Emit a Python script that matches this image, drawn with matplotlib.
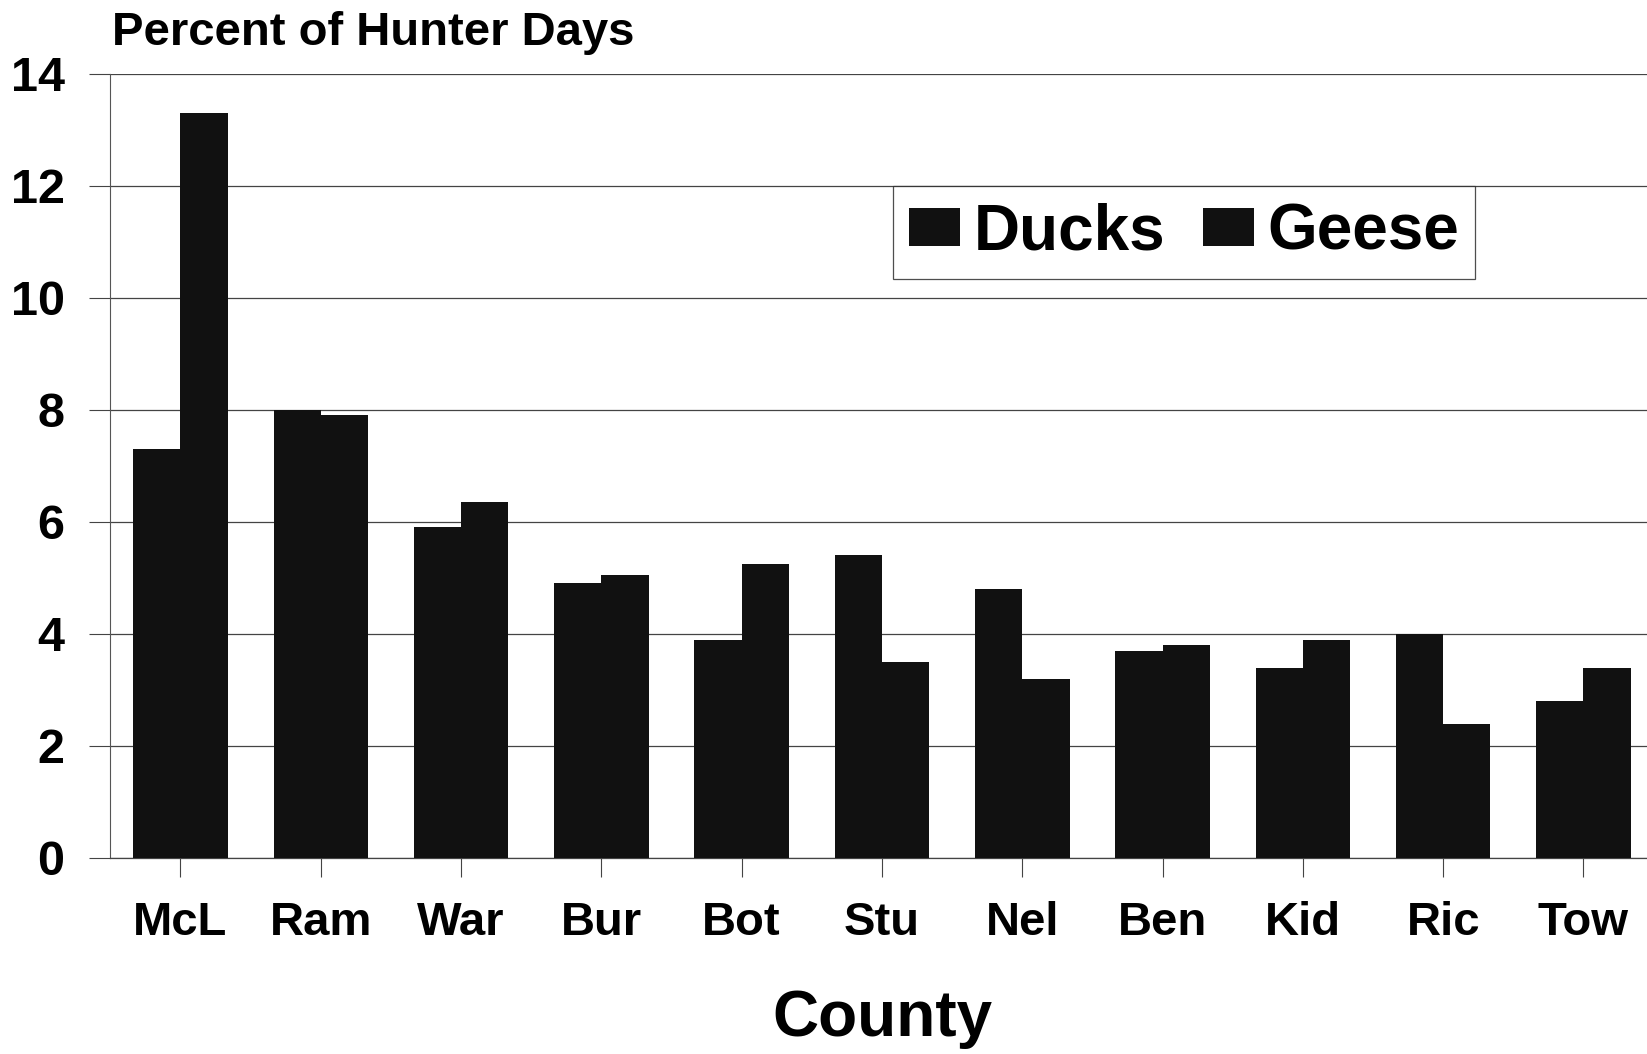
import matplotlib
matplotlib.use("Agg")
import matplotlib.pyplot as plt
import numpy as np

counties = ["McL", "Ram", "War", "Bur", "Bot", "Stu", "Nel", "Ben", "Kid", "Ric", "Tow"]
ducks = [7.3, 8.0, 5.9, 4.9, 3.9, 5.4, 4.8, 3.7, 3.4, 4.0, 2.8]
geese = [13.3, 7.9, 6.35, 5.05, 5.25, 3.5, 3.2, 3.8, 3.9, 2.4, 3.4]
yticks = [0, 2, 4, 6, 8, 10, 12, 14]

plt.rcParams['font.family'] = ['Liberation Sans', 'DejaVu Sans']
plt.rcParams['font.weight'] = 'bold'

fig = plt.figure(figsize=(16.47, 10.54), dpi=100)
ax = fig.add_axes([0.067, 0.186, 0.937, 0.744])

x = np.arange(len(counties))
w = 0.337
ax.bar(x - w/2, ducks, width=w, color='#111111', label='Ducks', zorder=3)
ax.bar(x + w/2, geese, width=w, color='#111111', label='Geese', zorder=3)

ax.set_xlim(-0.5, len(counties) - 0.5)
ax.set_ylim(0, 14)
ax.set_yticks(yticks)
ax.set_yticklabels([str(v) for v in yticks], fontsize=35, fontweight='bold')
ax.set_xticks(x)
ax.set_xticklabels(counties, fontsize=34, fontweight='bold')
ax.tick_params(axis='y', length=15, width=0.8, pad=18, color='#444444')
ax.tick_params(axis='x', length=14, width=0.8, pad=17, color='#444444')

ax.yaxis.grid(True, color='#444444', linewidth=0.9, zorder=0)
ax.set_axisbelow(True)
for s in ['top', 'right']:
    ax.spines[s].set_visible(False)
ax.spines['left'].set_color('#555555')
ax.spines['left'].set_linewidth(0.8)
ax.spines['bottom'].set_color('#444444')
ax.spines['bottom'].set_linewidth(0.9)

ax.set_xlabel('County', fontsize=46, fontweight='bold', labelpad=32)
fig.text(0.068, 0.948, 'Percent of Hunter Days', fontsize=34, fontweight='bold',
         ha='left', va='bottom')

leg = ax.legend(loc='upper left', bbox_to_anchor=(0.507, 0.857), ncol=2,
                fontsize=46, frameon=True, fancybox=False, edgecolor='#222222',
                handlelength=0.8, handleheight=0.55, handletextpad=0.2,
                columnspacing=0.6, borderpad=0.26, borderaxespad=0)
leg.get_frame().set_linewidth(0.9)
for t in leg.get_texts():
    t.set_fontweight('bold')

fig.savefig('out.png', dpi=100, facecolor='white')
